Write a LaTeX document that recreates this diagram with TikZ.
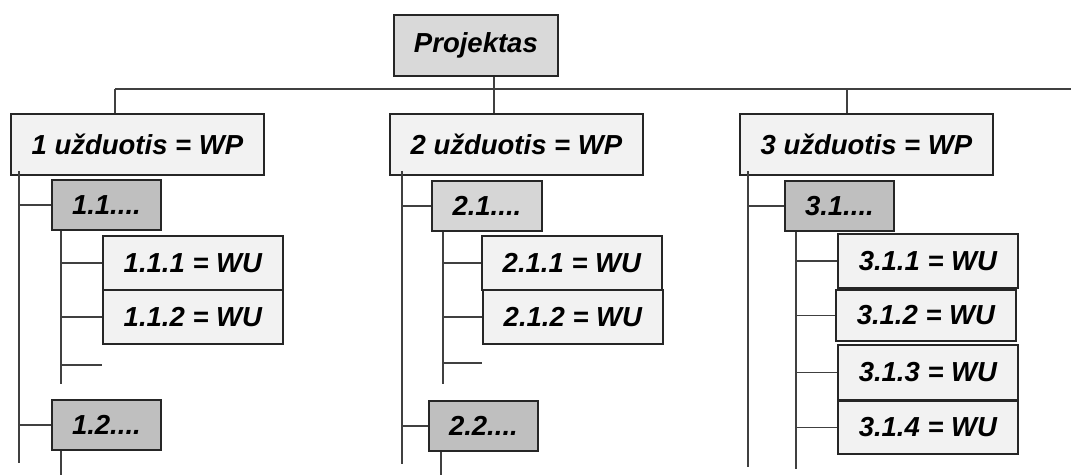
\documentclass[tikz,border=0pt]{standalone}
\usepackage{fontspec}
\setmainfont{Liberation Sans}
\begin{document}
\begin{tikzpicture}[x=1pt,y=-1pt,
  box/.style={draw=black!85, line width=1.8pt, rectangle, inner sep=0pt, anchor=north west,
    font=\fontsize{27.5}{30}\selectfont\bfseries\itshape},
  rootbox/.style={box, fill=black!15, minimum width=164pt, minimum height=61pt},
  wpbox/.style={box, fill=black!5, minimum width=253pt, minimum height=61pt},
  taskbox/.style={box, fill=black!25, minimum width=109pt, minimum height=50pt},
  taskboxlt/.style={box, fill=black!16, minimum width=110pt, minimum height=50pt},
  wubox/.style={box, fill=black!5, minimum width=180pt, minimum height=54pt},
  link/.style={draw=black!75, line width=1.6pt}]
\useasboundingbox (0,0) rectangle (1071,475);

% top level
\node[rootbox] (proj) at (393,14) {Projektas};

% work packages
\node[wpbox] (wp1) at (10,113) {1 užduotis = WP};
\node[wpbox] (wp2) at (389,113) {2 užduotis = WP};
\node[wpbox] (wp3) at (739,113) {3 užduotis = WP};

% tasks
\node[taskbox] (t11) at (51,179) {1.1....};
\node[taskbox] (t12) at (51,399) {1.2....};
\node[taskboxlt] (t21) at (431,180) {2.1....};
\node[taskbox] (t22) at (428,400) {2.2....};
\node[taskbox] (t31) at (784,180) {3.1....};

% work units
\node[wubox] (u111) at (102,235) {1.1.1 = WU};
\node[wubox] (u112) at (102,289) {1.1.2 = WU};
\node[wubox] (u211) at (481,235) {2.1.1 = WU};
\node[wubox] (u212) at (482,289) {2.1.2 = WU};
\node[wubox] (u311) at (837,233) {3.1.1 = WU};
\node[wubox,minimum height=51pt] (u312) at (835,289) {3.1.2 = WU};
\node[wubox,minimum height=55pt] (u313) at (837,344) {3.1.3 = WU};
\node[wubox,minimum height=53pt] (u314) at (837,400) {3.1.4 = WU};

% bus under the project box
\coordinate (d1) at (115,89);
\coordinate (d2) at (494,89);
\coordinate (d3) at (847,89);
\coordinate (busend) at (1071,89);
\draw[link] (d1) -- (busend);
\draw[link] (proj.south -| d2) -- (d2);
\draw[link] (d1) -- (d1 |- wp1.north);
\draw[link] (d2) -- (d2 |- wp2.north);
\draw[link] (d3) -- (d3 |- wp3.north);

% spines of the work packages
\coordinate (s1) at (19,463);
\coordinate (s2) at (402,464);
\coordinate (s3) at (748,467);
\draw[link] ([yshift=5pt]wp1.south -| s1) -- (s1);
\draw[link] ([yshift=5pt]wp2.south -| s2) -- (s2);
\draw[link] ([yshift=5pt]wp3.south -| s3) -- (s3);
\draw[link] (s1 |- t11.west) -- (t11.west);
\draw[link] (s1 |- t12.west) -- (t12.west);
\draw[link] (s2 |- t21.west) -- (t21.west);
\draw[link] (s2 |- t22.west) -- (t22.west);
\draw[link] (s3 |- t31.west) -- (t31.west);

% spines of the tasks
\coordinate (s11) at (61,384);
\coordinate (s21) at (443,384);
\coordinate (s31) at (796,469);
\coordinate (s12) at (61,475);
\coordinate (s22) at (441,475);
\draw[link] (t11.south -| s11) -- (s11);
\draw[link] (t21.south -| s21) -- (s21);
\draw[link] (t31.south -| s31) -- (s31);
\draw[link] (t12.south -| s12) -- (s12);
\draw[link] (t22.south -| s22) -- (s22);

\draw[link] (s11 |- u111.west) -- (u111.west);
\draw[link] (s11 |- u112.west) -- (u112.west);
\draw[link] (s21 |- u211.west) -- (u211.west);
\draw[link] (s21 |- u212.west) -- (u212.west);
\draw[link] (s31 |- u311.west) -- (u311.west);
\draw[link] (s31 |- u312.west) -- (u312.west);
\draw[link] (s31 |- u313.west) -- (u313.west);
\draw[link] (s31 |- u314.west) -- (u314.west);

% open branches
\coordinate (stub1) at (102,365);
\coordinate (stub2) at (482,363);
\draw[link] (s11 |- stub1) -- (stub1);
\draw[link] (s21 |- stub2) -- (stub2);
\end{tikzpicture}
\end{document}
